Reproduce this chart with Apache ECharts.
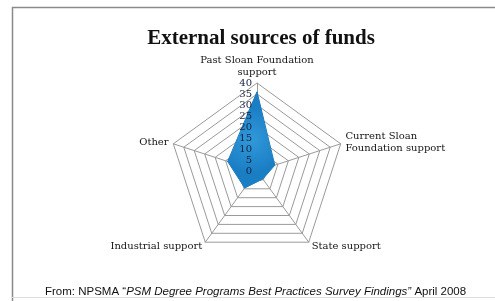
<!DOCTYPE html>
<html>
<head>
<meta charset="utf-8">
<script src="https://cdn.jsdelivr.net/npm/echarts@6/dist/echarts.min.js"></script>
<style>
  html, body { margin: 0; padding: 0; background: #fff; }
  #chart { width: 495px; height: 301px; }
</style>
</head>
<body>
<div id="chart"></div>
<script>
// categories clockwise from the top
var categories = ['Past Sloan Foundation\nsupport', 'Current Sloan\nFoundation support', 'State support', 'Industrial support', 'Other'];
var fundValues = [36, 8.5, 4.5, 9.5, 14];
var tickMax = 40;
var tickStep = 5;

// radar draws counter-clockwise, so flip the order after the first item
var order = [0, 4, 3, 2, 1];

var serif = '"DejaVu Serif", "Liberation Serif", serif';
var chart = echarts.init(document.getElementById('chart'));

chart.setOption({
  backgroundColor: '#ffffff',
  animation: false,
  title: {
    text: 'External sources of funds',
    left: 256,
    textAlign: 'center',
    top: 23,
    textStyle: { fontFamily: '"Liberation Serif", serif', fontWeight: 'bold', fontSize: 21, color: '#111' }
  },
  radar: {
    center: [257, 171],
    radius: 88,
    startAngle: 90,
    shape: 'polygon',
    splitNumber: tickMax / tickStep,
    nameGap: 5,
    axisName: { color: '#151515', fontFamily: serif, fontSize: 10, lineHeight: 12 },
    splitLine: { lineStyle: { color: '#9a9a9a', width: 1 } },
    splitArea: { show: false },
    axisLine: { lineStyle: { color: '#9a9a9a', width: 1 } },
    indicator: order.map(function (i) { return { name: categories[i], max: tickMax, min: 0 }; })
  },
  polar: { center: [257, 171], radius: 88 },
  angleAxis: { show: false, startAngle: 90 },
  radiusAxis: {
    z: 10,
    min: 0,
    max: tickMax,
    interval: tickStep,
    axisLine: { show: false },
    axisTick: { show: false },
    splitLine: { show: false },
    axisLabel: { interval: 0, color: '#14223f', fontFamily: serif, fontSize: 10, margin: 5 }
  },
  series: [{
    type: 'radar',
    z: 2,
    symbol: 'none',
    lineStyle: { color: '#1672b4', width: 1 },
    areaStyle: {
      color: new echarts.graphic.RadialGradient(0.5, 0.5, 0.7, [
        { offset: 0, color: '#3199da' },
        { offset: 1, color: '#1a7ec4' }
      ]),
      opacity: 1
    },
    data: [{ value: order.map(function (i) { return fundValues[i]; }) }]
  }],
  graphic: [
    { type: 'polyline', shape: { points: [[12.5, 301], [12.5, 7.5], [495, 7.5]] }, style: { stroke: '#8a8a8a', lineWidth: 1.5, fill: null } },
    { type: 'line', shape: { x1: 12, y1: 297.5, x2: 495, y2: 297.5 }, style: { stroke: '#dddddd', lineWidth: 1 } },
    {
      type: 'text', left: 45, top: 286,
      style: {
        text: '{n|From: NPSMA “}{i|PSM Degree Programs Best Practices Survey Findings”}{n| April 2008}',
        rich: {
          n: { fontFamily: '"Liberation Sans", Arial, sans-serif', fontSize: 11.5, fill: '#111' },
          i: { fontFamily: '"Liberation Sans", Arial, sans-serif', fontSize: 11.5, fontStyle: 'italic', fill: '#111' }
        }
      }
    }
  ]
});
</script>
</body>
</html>
